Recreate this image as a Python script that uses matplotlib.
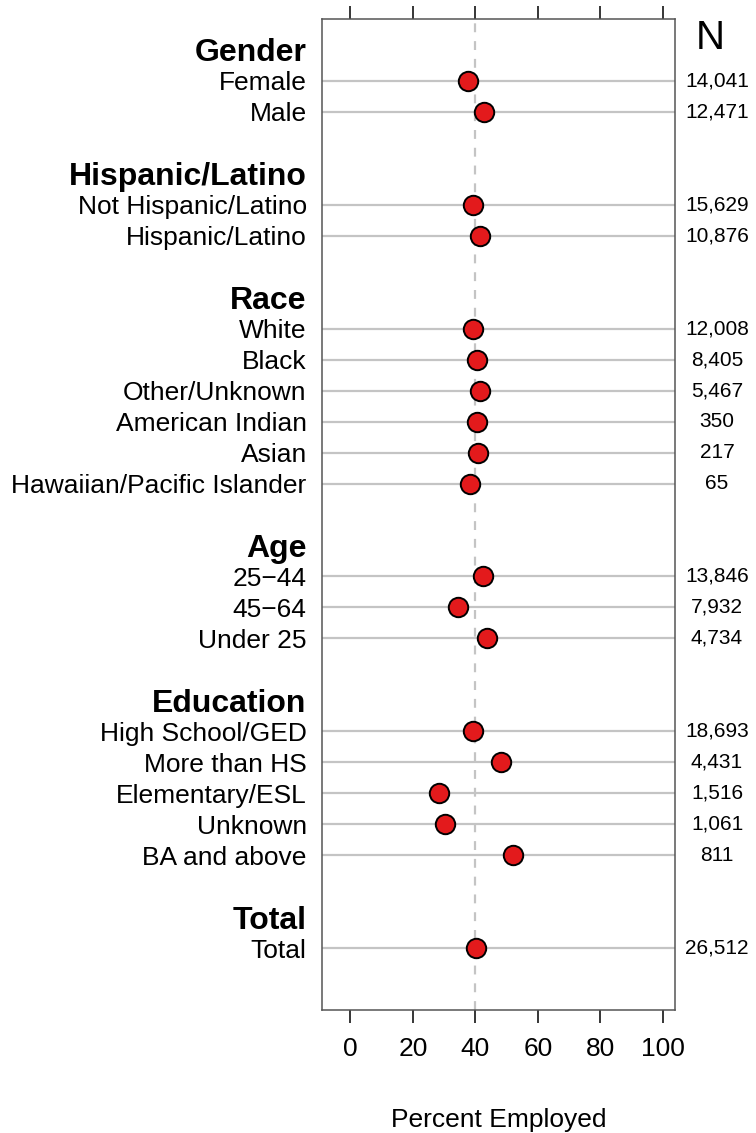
import matplotlib
matplotlib.use("Agg")
import matplotlib.pyplot as plt
import matplotlib.transforms as mtransforms

plt.rcParams['font.family'] = ['Liberation Sans', 'DejaVu Sans']

groups = ["Gender", "Hispanic/Latino", "Race", "Age", "Education", "Total"]
labels = [
    ["Female", "Male"],
    ["Not Hispanic/Latino", "Hispanic/Latino"],
    ["White", "Black", "Other/Unknown", "American Indian", "Asian",
     "Hawaiian/Pacific Islander"],
    ["25\u221244", "45\u221264", "Under 25"],
    ["High School/GED", "More than HS", "Elementary/ESL", "Unknown",
     "BA and above"],
    ["Total"],
]
pct = [
    [37.7, 42.8],
    [39.1, 41.4],
    [39.1, 40.6, 41.5, 40.6, 40.9, 38.3],
    [42.3, 34.5, 43.6],
    [39.1, 48.2, 28.3, 30.2, 51.9],
    [40.2],
]
counts = [
    ["14,041", "12,471"],
    ["15,629", "10,876"],
    ["12,008", "8,405", "5,467", "350", "217", "65"],
    ["13,846", "7,932", "4,734"],
    ["18,693", "4,431", "1,516", "1,061", "811"],
    ["26,512"],
]

fig = plt.figure(figsize=(7.56, 11.33), dpi=100)
ax = fig.add_axes([322 / 756, 1 - 1010 / 1133, 353 / 756, 991 / 1133])

# lay out rows: header, items, blank
ticks, ticklabels, bold = [], [], []
item_y, item_x, item_n = [], [], []
row = 1
for g, labs, vals, ns in zip(groups, labels, pct, counts):
    ticks.append(row)
    ticklabels.append(g)
    bold.append(True)
    row += 1
    for lab, v, n in zip(labs, vals, ns):
        ticks.append(row)
        ticklabels.append(lab)
        bold.append(False)
        item_y.append(row)
        item_x.append(v)
        item_n.append(n)
        row += 1
    row += 1

for y in item_y:
    ax.axhline(y, color="#c4c4c4", lw=1.6, zorder=1)
ax.axvline(40, color="#c4c4c4", lw=1.6, ls=(0, (4, 4)), zorder=2)
ax.plot(item_x, item_y, "o", ms=14, mfc="#e31a1c", mec="black",
        mew=1.4, zorder=3, clip_on=False)

ax.set_xlim(-9.1, 103.9)
ax.set_ylim(row, 0)

ax.set_yticks(ticks)
ax.set_yticklabels(ticklabels)
for t, b in zip(ax.get_yticklabels(), bold):
    if b:
        t.set_fontsize(23)
        t.set_fontweight("bold")
    else:
        t.set_fontsize(19)
ax.tick_params(axis="y", length=0, pad=11)

ax.set_xticks([0, 20, 40, 60, 80, 100])
ax.tick_params(axis="x", top=True, direction="out", length=9.5, width=1.1,
               labelsize=19, pad=10)
ax.set_xlabel("Percent Employed", fontsize=19, labelpad=34)

for s in ax.spines.values():
    s.set_color("#555555")
    s.set_linewidth(1.1)

trans = mtransforms.blended_transform_factory(ax.transAxes, ax.transData)
for y, n in zip(item_y, item_n):
    ax.text(1.119, y, n, transform=trans, ha="center", va="center",
            fontsize=15)
ax.text(1.101, 0.6, "N", transform=trans, ha="center", va="center",
        fontsize=29)

fig.savefig("out.png", dpi=100)
